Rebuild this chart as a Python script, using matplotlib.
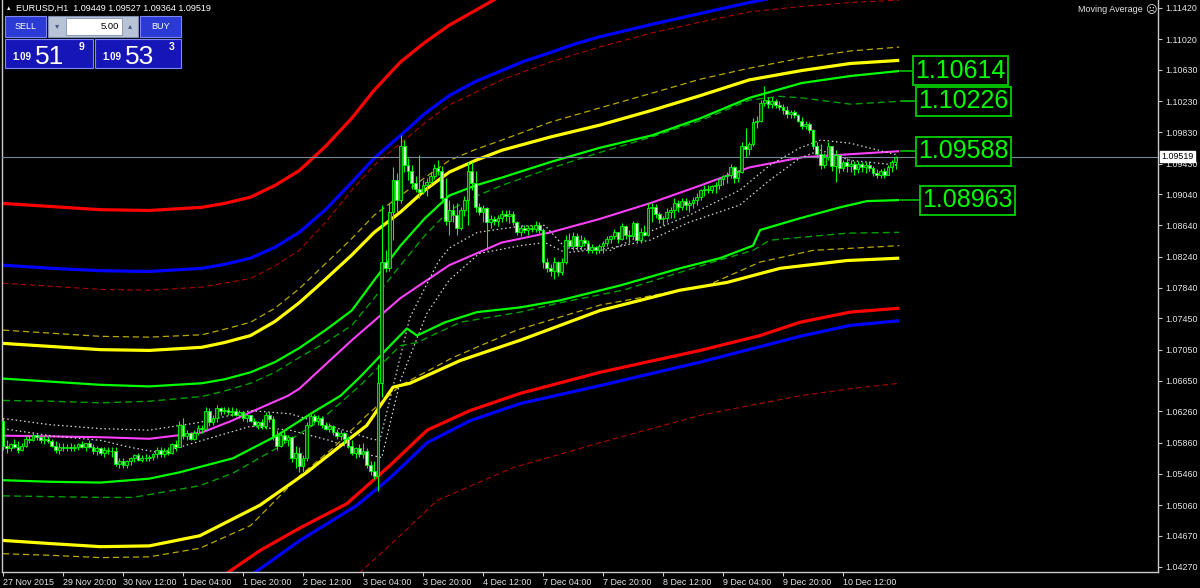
import numpy as np
import matplotlib.pyplot as plt
from matplotlib.patches import Rectangle

# ---------------- candles (EURUSD H1) ----------------
opens = [
    1.0614, 1.0582, 1.0579, 1.0584, 1.0581, 1.0577, 1.0582, 1.0591, 1.0589, 1.0596,
    1.0593, 1.0589, 1.0591, 1.0588, 1.0582, 1.0577, 1.0581, 1.0579, 1.0581, 1.0579,
    1.0580, 1.0584, 1.0581, 1.0585, 1.0580, 1.0575, 1.0579, 1.0573, 1.0577, 1.0575,
    1.0576, 1.0559, 1.0563, 1.0558, 1.0562, 1.0566, 1.0570, 1.0564, 1.0567, 1.0566,
    1.0568, 1.0571, 1.0577, 1.0572, 1.0576, 1.0573, 1.0584, 1.0581, 1.0608, 1.0595,
    1.0598, 1.0591, 1.0599, 1.0605, 1.0603, 1.0627, 1.0612, 1.0617, 1.0630, 1.0626,
    1.0628, 1.0625, 1.0627, 1.0622, 1.0625, 1.0618, 1.0621, 1.0614, 1.0609, 1.0612,
    1.0607, 1.0621, 1.0616, 1.0594, 1.0582, 1.0596, 1.0589, 1.0593, 1.0566, 1.0573,
    1.0556, 1.0566, 1.0609, 1.0620, 1.0614, 1.0617, 1.0609, 1.0604, 1.0607, 1.0600,
    1.0595, 1.0598, 1.0591, 1.0582, 1.0573, 1.0579, 1.0572, 1.0576, 1.0558, 1.0550,
    1.0544, 1.0662, 1.0817, 1.0809, 1.0881, 1.0922, 1.0896, 1.0966, 1.0941, 1.0934,
    1.0918, 1.0911, 1.0906, 1.0915, 1.0919, 1.0927, 1.0937, 1.0934, 1.0899, 1.0870,
    1.0883, 1.0877, 1.0860, 1.0883, 1.0896, 1.0934, 1.0918, 1.0887, 1.0881, 1.0886,
    1.0868, 1.0872, 1.0869, 1.0873, 1.0879, 1.0876, 1.0878, 1.0868, 1.0856, 1.0861,
    1.0858, 1.0860, 1.0859, 1.0865, 1.0858, 1.0817, 1.0809, 1.0806, 1.0817, 1.0804,
    1.0817, 1.0845, 1.0838, 1.0850, 1.0837, 1.0845, 1.0841, 1.0833, 1.0836, 1.0832,
    1.0837, 1.0841, 1.0847, 1.0850, 1.0855, 1.0847, 1.0863, 1.0852, 1.0850, 1.0867,
    1.0845, 1.0855, 1.0852, 1.0886, 1.0888, 1.0878, 1.0872, 1.0873, 1.0881, 1.0883,
    1.0893, 1.0887, 1.0895, 1.0890, 1.0892, 1.0897, 1.0900, 1.0909, 1.0911, 1.0909,
    1.0914, 1.0916, 1.0923, 1.0927, 1.0929, 1.0938, 1.0924, 1.0932, 1.0966, 1.0961,
    1.0968, 1.0996, 1.0998, 1.1020, 1.1024, 1.1019, 1.1023, 1.1018, 1.1015, 1.1011,
    1.1006, 1.1009, 1.1005, 1.0998, 1.0991, 1.0993, 1.0986, 1.0965, 1.0955, 1.0941,
    1.0952, 1.0965, 1.0940, 1.0954, 1.0937, 1.0945, 1.0940, 1.0943, 1.0936, 1.0942,
    1.0938, 1.0941, 1.0937, 1.0931, 1.0928, 1.0933, 1.0929, 1.0938, 1.09449]
highs = [
    1.0617, 1.0589, 1.0586, 1.0591, 1.0588, 1.0585, 1.0595, 1.0596, 1.0600, 1.0599,
    1.0596, 1.0594, 1.0595, 1.0591, 1.0588, 1.0585, 1.0586, 1.0584, 1.0585, 1.0584,
    1.0586, 1.0588, 1.0586, 1.0589, 1.0584, 1.0582, 1.0581, 1.0580, 1.0581, 1.0580,
    1.0580, 1.0566, 1.0567, 1.0564, 1.0568, 1.0572, 1.0573, 1.0570, 1.0571, 1.0570,
    1.0573, 1.0581, 1.0580, 1.0579, 1.0580, 1.0586, 1.0589, 1.0614, 1.0617, 1.0602,
    1.0600, 1.0602, 1.0609, 1.0609, 1.0631, 1.0630, 1.0621, 1.0634, 1.0632, 1.0632,
    1.0632, 1.0631, 1.0630, 1.0628, 1.0626, 1.0623, 1.0622, 1.0617, 1.0614, 1.0616,
    1.0625, 1.0625, 1.0620, 1.0602, 1.0600, 1.0602, 1.0596, 1.0595, 1.0582, 1.0580,
    1.0570, 1.0613, 1.0623, 1.0623, 1.0622, 1.0620, 1.0613, 1.0611, 1.0609, 1.0604,
    1.0602, 1.0600, 1.0595, 1.0589, 1.0581, 1.0584, 1.0586, 1.0579, 1.0563, 1.0563,
    1.0687, 1.0890, 1.0832, 1.0892, 1.0938, 1.0931, 1.0980, 1.0973, 1.0950, 1.0941,
    1.0927, 1.0954, 1.0922, 1.0925, 1.0932, 1.0942, 1.0947, 1.0940, 1.0925, 1.0896,
    1.0891, 1.0893, 1.0888, 1.0901, 1.0945, 1.0945, 1.0934, 1.0892, 1.0890, 1.0887,
    1.0877, 1.0876, 1.0877, 1.0884, 1.0883, 1.0884, 1.0882, 1.0870, 1.0865, 1.0865,
    1.0864, 1.0865, 1.0869, 1.0868, 1.0860, 1.0822, 1.0815, 1.0823, 1.0819, 1.0822,
    1.0851, 1.0854, 1.0855, 1.0854, 1.0851, 1.0849, 1.0845, 1.0840, 1.0838, 1.0840,
    1.0844, 1.0850, 1.0852, 1.0859, 1.0856, 1.0867, 1.0865, 1.0858, 1.0870, 1.0868,
    1.0860, 1.0864, 1.0892, 1.0893, 1.0891, 1.0881, 1.0876, 1.0886, 1.0888, 1.0899,
    1.0896, 1.0899, 1.0899, 1.0896, 1.0900, 1.0905, 1.0911, 1.0915, 1.0915, 1.0916,
    1.0920, 1.0925, 1.0929, 1.0932, 1.0942, 1.0940, 1.0934, 1.0970, 1.0988, 1.0970,
    1.1001, 1.1004, 1.1024, 1.1042, 1.1028, 1.1028, 1.1025, 1.1023, 1.1019, 1.1016,
    1.1012, 1.1011, 1.1007, 1.1002, 1.0997, 1.0996, 1.0987, 1.0970, 1.0968, 1.0957,
    1.0970, 1.0966, 1.0960, 1.0955, 1.0948, 1.0950, 1.0947, 1.0946, 1.0946, 1.0945,
    1.0945, 1.0946, 1.0940, 1.0936, 1.0936, 1.0937, 1.0941, 1.0947, 1.09527]
lows = [
    1.0577, 1.0573, 1.0575, 1.0579, 1.0573, 1.0575, 1.0580, 1.0586, 1.0588, 1.0589,
    1.0585, 1.0584, 1.0586, 1.0580, 1.0573, 1.0572, 1.0576, 1.0575, 1.0576, 1.0575,
    1.0577, 1.0579, 1.0576, 1.0579, 1.0571, 1.0570, 1.0570, 1.0568, 1.0571, 1.0568,
    1.0556, 1.0554, 1.0554, 1.0553, 1.0557, 1.0561, 1.0562, 1.0561, 1.0563, 1.0562,
    1.0564, 1.0567, 1.0568, 1.0568, 1.0570, 1.0572, 1.0576, 1.0580, 1.0591, 1.0589,
    1.0589, 1.0589, 1.0596, 1.0598, 1.0602, 1.0607, 1.0608, 1.0613, 1.0622, 1.0623,
    1.0622, 1.0620, 1.0620, 1.0618, 1.0614, 1.0613, 1.0612, 1.0607, 1.0603, 1.0604,
    1.0604, 1.0612, 1.0589, 1.0577, 1.0581, 1.0586, 1.0582, 1.0561, 1.0553, 1.0548,
    1.0549, 1.0563, 1.0607, 1.0611, 1.0609, 1.0605, 1.0602, 1.0600, 1.0596, 1.0591,
    1.0589, 1.0586, 1.0579, 1.0570, 1.0567, 1.0568, 1.0566, 1.0554, 1.0545, 1.0540,
    1.0524, 1.0644, 1.0804, 1.0806, 1.0845, 1.0881, 1.0893, 1.0932, 1.0922, 1.0911,
    1.0906, 1.0899, 1.0904, 1.0902, 1.0915, 1.0923, 1.0929, 1.0892, 1.0864, 1.0852,
    1.0868, 1.0852, 1.0858, 1.0876, 1.0865, 1.0909, 1.0881, 1.0877, 1.0868, 1.0832,
    1.0860, 1.0865, 1.0863, 1.0868, 1.0870, 1.0867, 1.0864, 1.0851, 1.0850, 1.0854,
    1.0852, 1.0855, 1.0855, 1.0854, 1.0809, 1.0804, 1.0799, 1.0795, 1.0799, 1.0801,
    1.0814, 1.0835, 1.0832, 1.0832, 1.0833, 1.0837, 1.0829, 1.0828, 1.0827, 1.0828,
    1.0829, 1.0837, 1.0841, 1.0846, 1.0842, 1.0845, 1.0847, 1.0842, 1.0847, 1.0841,
    1.0841, 1.0850, 1.0850, 1.0868, 1.0873, 1.0867, 1.0864, 1.0868, 1.0873, 1.0874,
    1.0881, 1.0883, 1.0883, 1.0881, 1.0886, 1.0890, 1.0896, 1.0902, 1.0905, 1.0905,
    1.0905, 1.0911, 1.0915, 1.0918, 1.0924, 1.0918, 1.0919, 1.0931, 1.0951, 1.0954,
    1.0965, 1.0989, 1.0996, 1.1016, 1.1014, 1.1014, 1.1014, 1.1012, 1.1007, 1.1001,
    1.1001, 1.1001, 1.0996, 1.0987, 1.0987, 1.0982, 1.0961, 1.0950, 1.0936, 1.0937,
    1.0947, 1.0933, 1.0920, 1.0931, 1.0933, 1.0932, 1.0932, 1.0929, 1.0931, 1.0932,
    1.0931, 1.0933, 1.0927, 1.0924, 1.0924, 1.0925, 1.0928, 1.0932, 1.09364]
closes = [
    1.0582, 1.0579, 1.0584, 1.0581, 1.0577, 1.0582, 1.0591, 1.0589, 1.0596, 1.0593,
    1.0589, 1.0591, 1.0588, 1.0582, 1.0577, 1.0581, 1.0579, 1.0581, 1.0579, 1.0580,
    1.0584, 1.0581, 1.0585, 1.0580, 1.0575, 1.0579, 1.0573, 1.0577, 1.0575, 1.0576,
    1.0559, 1.0563, 1.0558, 1.0562, 1.0566, 1.0570, 1.0564, 1.0567, 1.0566, 1.0568,
    1.0571, 1.0577, 1.0572, 1.0576, 1.0573, 1.0584, 1.0581, 1.0608, 1.0595, 1.0598,
    1.0591, 1.0599, 1.0605, 1.0603, 1.0627, 1.0612, 1.0617, 1.0630, 1.0626, 1.0628,
    1.0625, 1.0627, 1.0622, 1.0625, 1.0618, 1.0621, 1.0614, 1.0609, 1.0612, 1.0607,
    1.0621, 1.0616, 1.0594, 1.0582, 1.0596, 1.0589, 1.0593, 1.0566, 1.0573, 1.0556,
    1.0566, 1.0609, 1.0620, 1.0614, 1.0617, 1.0609, 1.0604, 1.0607, 1.0600, 1.0595,
    1.0598, 1.0591, 1.0582, 1.0573, 1.0579, 1.0572, 1.0576, 1.0558, 1.0550, 1.0544,
    1.0662, 1.0817, 1.0809, 1.0881, 1.0922, 1.0896, 1.0966, 1.0941, 1.0934, 1.0918,
    1.0911, 1.0906, 1.0915, 1.0919, 1.0927, 1.0937, 1.0934, 1.0899, 1.0870, 1.0883,
    1.0877, 1.0860, 1.0883, 1.0896, 1.0934, 1.0918, 1.0887, 1.0881, 1.0886, 1.0868,
    1.0872, 1.0869, 1.0873, 1.0879, 1.0876, 1.0878, 1.0868, 1.0856, 1.0861, 1.0858,
    1.0860, 1.0859, 1.0865, 1.0858, 1.0817, 1.0809, 1.0806, 1.0817, 1.0804, 1.0817,
    1.0845, 1.0838, 1.0850, 1.0837, 1.0845, 1.0841, 1.0833, 1.0836, 1.0832, 1.0837,
    1.0841, 1.0847, 1.0850, 1.0855, 1.0847, 1.0863, 1.0852, 1.0850, 1.0867, 1.0845,
    1.0855, 1.0852, 1.0886, 1.0888, 1.0878, 1.0872, 1.0873, 1.0881, 1.0883, 1.0893,
    1.0887, 1.0895, 1.0890, 1.0892, 1.0897, 1.0900, 1.0909, 1.0911, 1.0909, 1.0914,
    1.0916, 1.0923, 1.0927, 1.0929, 1.0938, 1.0924, 1.0932, 1.0966, 1.0961, 1.0968,
    1.0996, 1.0998, 1.1020, 1.1024, 1.1019, 1.1023, 1.1018, 1.1015, 1.1011, 1.1006,
    1.1009, 1.1005, 1.0998, 1.0991, 1.0993, 1.0986, 1.0965, 1.0955, 1.0941, 1.0952,
    1.0965, 1.0940, 1.0954, 1.0937, 1.0945, 1.0940, 1.0943, 1.0936, 1.0942, 1.0938,
    1.0941, 1.0937, 1.0931, 1.0928, 1.0933, 1.0929, 1.0938, 1.0945, 1.09519]

time_labels = ["27 Nov 2015", "29 Nov 20:00", "30 Nov 12:00", "1 Dec 04:00", "1 Dec 20:00",
               "2 Dec 12:00", "3 Dec 04:00", "3 Dec 20:00", "4 Dec 12:00", "7 Dec 04:00",
               "7 Dec 20:00", "8 Dec 12:00", "9 Dec 04:00", "9 Dec 20:00", "10 Dec 12:00"]
price_ticks = [1.11420, 1.11020, 1.10630, 1.10230, 1.09830, 1.09430, 1.09040, 1.08640, 1.08240,
               1.07840, 1.07450, 1.07050, 1.06650, 1.06260, 1.05860, 1.05460, 1.05060, 1.04670, 1.04270]

# ---------------- indicator lines (bar index, price) ----------------
red_up_x = [0, 13, 26, 39, 53, 59, 66, 72.5, 79, 86, 93, 99, 106, 112.5, 119, 126, 133, 146]
red_up_y = [1.0892, 1.0888, 1.0884, 1.0883, 1.0887, 1.0892, 1.0900, 1.0915, 1.0934, 1.0965, 1.1001,
            1.1037, 1.1073, 1.1098, 1.1120, 1.1139, 1.1158, 1.1190]
blue_up_x = [0, 13, 26, 39, 53, 59, 66, 72.5, 79, 86, 93, 99, 106, 112.5, 119, 126, 133, 139, 146,
             152.5, 159, 173, 186, 199, 213, 226]
blue_up_y = [1.0813, 1.0809, 1.0806, 1.0805, 1.0809, 1.0814, 1.0822, 1.0836, 1.0855, 1.0884, 1.0919,
             1.0950, 1.0979, 1.1007, 1.1030, 1.1048, 1.1062, 1.1074, 1.1085, 1.1096, 1.1105, 1.1121,
             1.1135, 1.1149, 1.1162, 1.1171]
dred_up_x = [0, 13, 26, 39, 53, 59, 66, 72.5, 79, 86, 93, 99, 106, 112.5, 119, 126, 133, 146, 159,
             173, 186, 199, 213, 226, 239]
dred_up_y = [1.0790, 1.0786, 1.0782, 1.0781, 1.0785, 1.0790, 1.0796, 1.0812, 1.0832, 1.0868, 1.0909,
             1.0941, 1.0969, 1.0995, 1.1018, 1.1034, 1.1050, 1.1073, 1.1092, 1.1110, 1.1124, 1.1137,
             1.1144, 1.1149, 1.1152]
ydash_up_x = [0, 13, 26, 39, 53, 59, 66, 72.5, 79, 86, 93, 99, 106, 112.5, 119, 126, 133, 146, 159,
              173, 186, 199, 213, 226, 239]
ydash_up_y = [1.0730, 1.0726, 1.0722, 1.0721, 1.0724, 1.0731, 1.0740, 1.0758, 1.0783, 1.0815, 1.0847,
              1.0877, 1.0902, 1.0925, 1.0947, 1.0961, 1.0973, 1.0996, 1.1014, 1.1033, 1.1051, 1.1065,
              1.1078, 1.1087, 1.1092]
yel_up_x = [0, 13, 26, 39, 53, 59, 66, 72.5, 79, 86, 93, 99, 106, 112.5, 119, 126, 133, 146, 159,
            173, 186, 199, 213, 226, 239]
yel_up_y = [1.0713, 1.0709, 1.0705, 1.0704, 1.0708, 1.0714, 1.0723, 1.0741, 1.0765, 1.0795, 1.0826,
            1.0855, 1.0881, 1.0909, 1.0932, 1.0947, 1.0960, 1.0977, 1.0992, 1.1011, 1.1030, 1.1050,
            1.1062, 1.1071, 1.1075]
grn_up_x = [0, 13, 26, 39, 53, 59, 66, 72.5, 79, 86, 93, 99, 106, 112.5, 119, 126, 133, 146, 159,
            173, 186, 199, 213, 226, 239]
grn_up_y = [1.0668, 1.0664, 1.0660, 1.0658, 1.0662, 1.0667, 1.0676, 1.0689, 1.0707, 1.0730, 1.0755,
            1.0794, 1.0838, 1.0873, 1.0902, 1.0915, 1.0925, 1.0945, 1.0963, 1.0979, 1.1001, 1.1027,
            1.1046, 1.1055, 1.10614]
gdash_up_x = [0, 13, 26, 39, 53, 59, 66, 72.5, 79, 86, 93, 99, 106, 112.5, 119, 126, 133, 146, 159,
              173, 186, 199, 207, 213, 226, 239]
gdash_up_y = [1.0640, 1.0639, 1.0637, 1.0639, 1.0645, 1.0652, 1.0662, 1.0676, 1.0695, 1.0714, 1.0736,
              1.0771, 1.0813, 1.0851, 1.0883, 1.0901, 1.0915, 1.0937, 1.0957, 1.0977, 1.0998, 1.1024,
              1.1029, 1.1027, 1.1019, 1.10226]
ma_x = [0, 13, 26, 39, 53, 61, 66, 76, 79, 93, 106, 119, 133, 146, 159, 173, 186, 199, 213, 226, 239]
ma_y = [1.0595, 1.0594, 1.0593, 1.0591, 1.0599, 1.0614, 1.0625, 1.0646, 1.0655, 1.0717, 1.0771,
        1.0813, 1.0842, 1.0855, 1.0872, 1.0893, 1.0915, 1.0938, 1.0951, 1.0955, 1.09588]
env_up_x = [0, 12.5, 26, 39, 52.5, 66, 76.5, 87, 98, 100.5, 108.5, 116, 119, 126.5, 138, 144.5, 150,
            162, 170, 183, 196.5, 204.5, 212.5, 218, 226, 238.5]
env_up_y = [1.0617, 1.0609, 1.0604, 1.0602, 1.0612, 1.0627, 1.0623, 1.0608, 1.0591, 1.0589, 1.0746,
            1.0817, 1.0835, 1.0855, 1.0863, 1.0864, 1.0835, 1.0832, 1.0851, 1.0877, 1.0909, 1.0941,
            1.0963, 1.0973, 1.0969, 1.0954]
env_dn_x = [0, 12.5, 26, 34, 42, 52.5, 66, 76.5, 87, 98, 101, 106, 113, 119, 127, 138, 144.5, 150,
            162, 172.5, 183, 196.5, 204.5, 212.5, 218, 226, 238.5]
env_dn_y = [1.0604, 1.0595, 1.0589, 1.0580, 1.0573, 1.0588, 1.0607, 1.0602, 1.0589, 1.0570, 1.0567,
            1.0666, 1.0751, 1.0794, 1.0828, 1.0838, 1.0842, 1.0829, 1.0835, 1.0845, 1.0868, 1.0890,
            1.0922, 1.0950, 1.0960, 1.0947, 1.0941]
grn_dn_x = [0, 12.5, 26, 39, 47, 61.3, 73, 82.7, 90, 95, 103.2, 107.7, 110.4, 117.9, 126.4, 137.9,
            148.5, 164.5, 180.5, 191.2, 200, 201.9, 212.5, 223.2, 230.4, 239]
grn_dn_y = [1.0538, 1.0536, 1.0535, 1.0540, 1.0548, 1.0566, 1.0595, 1.0625, 1.0646, 1.0669, 1.0710,
            1.0732, 1.0723, 1.0740, 1.0753, 1.0759, 1.0768, 1.0787, 1.0809, 1.0822, 1.0838, 1.0858,
            1.0873, 1.0887, 1.0895, 1.08963]
gdash_dn_x = [0, 12.5, 26, 34.7, 52.5, 61.3, 73, 84.5, 95.2, 105.9, 110.4, 121.9, 137.9, 148.5, 165.3,
              189.3, 200, 204.5, 225.1, 239]
gdash_dn_y = [1.0518, 1.0517, 1.0516, 1.0516, 1.0531, 1.0547, 1.0579, 1.0614, 1.0659, 1.0710, 1.0714,
              1.0740, 1.0753, 1.0765, 1.0781, 1.0817, 1.0832, 1.0845, 1.0854, 1.0855]
ydash_dn_x = [0, 12.5, 26, 39, 52.5, 66, 72, 79.2, 88, 97, 105.9, 120, 137, 159.2, 187.7, 201.9, 216, 239]
ydash_dn_y = [1.0444, 1.0442, 1.0439, 1.0440, 1.0451, 1.0480, 1.0509, 1.0544, 1.0579, 1.0621, 1.0659,
              1.0695, 1.0730, 1.0762, 1.0787, 1.0817, 1.0832, 1.0838]
yel_dn_x = [0, 12.5, 26, 39, 52.5, 68.5, 81, 90, 97, 104, 108.5, 121.9, 137.9, 159.2, 180.5, 193.1,
            207.2, 225.1, 239]
yel_dn_y = [1.0461, 1.0457, 1.0453, 1.0454, 1.0467, 1.0506, 1.0548, 1.0582, 1.0608, 1.0657, 1.0662,
            1.0691, 1.0717, 1.0755, 1.0781, 1.0791, 1.0809, 1.0819, 1.0822]
red_dn_x = [39, 52.5, 60, 68.5, 79.2, 91.7, 103.2, 113.1, 124.5, 137.9, 159.2, 185.9, 201.9, 212.5, 225.9, 239]
red_dn_y = [1.0333, 1.0384, 1.0420, 1.0448, 1.0477, 1.0508, 1.0557, 1.0602, 1.0627, 1.0649, 1.0676,
            1.0704, 1.0723, 1.0740, 1.0753, 1.0758]
blue_dn_x = [47, 57.9, 67.2, 79.2, 94.4, 103.2, 113.1, 124.5, 137.9, 159.2, 185.9, 212.5, 225.9, 239]
blue_dn_y = [1.0320, 1.0384, 1.0420, 1.0461, 1.0506, 1.0541, 1.0586, 1.0614, 1.0636, 1.0659, 1.0689,
             1.0722, 1.0736, 1.0742]
dred_dn_x = [84.5, 95.2, 105.9, 115.7, 136, 159.2, 185.9, 212.5, 225.9, 239]
dred_dn_y = [1.0333, 1.0420, 1.0467, 1.0512, 1.0554, 1.0586, 1.0621, 1.0646, 1.0655, 1.0662]

level_labels = [1.10614, 1.10226, 1.09588, 1.08963]
bid, ask = 1.09519, 1.09533

# ---------------- figure ----------------
plt.rcParams['font.family'] = ['Liberation Sans', 'DejaVu Sans']
fig = plt.figure(figsize=(12, 5.88), dpi=100, facecolor='black')
ax = fig.add_axes([2 / 1200, 16 / 588, 1156 / 1200, 572 / 588])
ax.set_facecolor('black')
ax.set_xlim(-0.27, 308)
ax.set_ylim(1.04206, 1.11522)

dash = (0, (5, 3))
dot = (0, (1.2, 2.2))
lines = [
    (red_up_x, red_up_y, '#ff0000', 2.3, '-'),
    (blue_up_x, blue_up_y, '#0000ff', 2.3, '-'),
    (dred_up_x, dred_up_y, '#b00000', 0.8, dash),
    (ydash_up_x, ydash_up_y, '#b8a800', 0.9, dash),
    (yel_up_x, yel_up_y, '#ffff00', 2.3, '-'),
    (gdash_up_x, gdash_up_y, '#00a000', 1.0, dash),
    (grn_up_x, grn_up_y, '#00ff00', 1.6, '-'),
    (ma_x, ma_y, '#ff40ff', 1.5, '-'),
    (env_up_x, env_up_y, '#d8d8d8', 0.9, dot),
    (env_dn_x, env_dn_y, '#d8d8d8', 0.9, dot),
    (gdash_dn_x, gdash_dn_y, '#00a000', 1.0, dash),
    (grn_dn_x, grn_dn_y, '#00ff00', 1.6, '-'),
    (ydash_dn_x, ydash_dn_y, '#b8a800', 0.9, dash),
    (yel_dn_x, yel_dn_y, '#ffff00', 2.3, '-'),
    (red_dn_x, red_dn_y, '#ff0000', 2.3, '-'),
    (blue_dn_x, blue_dn_y, '#0000ff', 2.3, '-'),
    (dred_dn_x, dred_dn_y, '#b00000', 0.8, dash),
]
for xs, ys, col, lw, ls in lines:
    ax.plot(xs, ys, color=col, lw=lw, linestyle=ls, zorder=2, solid_capstyle='butt',
            solid_joinstyle='round')

# candles
o = np.array(opens)
h = np.array(highs)
l = np.array(lows)
c = np.array(closes)
idx = np.arange(len(c))
up = c >= o
ax.vlines(idx, l, h, color='#00ff00', lw=0.8, zorder=4)
ax.bar(idx[up], (c - o)[up], bottom=o[up], width=0.74, color='#0c4a0c',
       edgecolor='#00ff00', lw=0.6, zorder=5)
ax.bar(idx[~up], (o - c)[~up], bottom=c[~up], width=0.74, color='#d0ffd0',
       edgecolor='#00ff00', lw=0.6, zorder=5)

# current bid line
ax.axhline(bid, color='#778899', lw=0.8, zorder=3)

# level labels at right end of the lines
label_x = [242.6, 243.4, 243.4, 244.5]
for lx, val in zip(label_x, level_labels):
    ax.plot([239.5, lx], [val, val], color='#00c000', lw=1.2, zorder=3)
    ax.text(lx + 0.6, val, f'{val:.5f}', color='#00ff00', fontsize=18, ha='left', va='center',
            zorder=6, bbox=dict(boxstyle='square,pad=0.1', fc='black', ec='#00c000', lw=1.4))

# axes styling
ax.spines['top'].set_visible(False)
for s in ['left', 'right', 'bottom']:
    ax.spines[s].set_color('#c8c8c8')
    ax.spines[s].set_linewidth(1.0)
ax.yaxis.tick_right()
ax.set_yticks(price_ticks)
ax.set_yticklabels([f'{v:.5f}' for v in price_ticks])
ax.set_xticks(list(range(0, 16 * len(time_labels), 16)))
ax.set_xticklabels(time_labels, ha='left')
ax.tick_params(axis='y', colors='#c8c8c8', labelcolor='#e6e6e6', labelsize=6.4, length=3,
               width=0.8, pad=2, direction='out')
ax.tick_params(axis='x', colors='#c8c8c8', labelcolor='#e6e6e6', labelsize=6.4, length=3,
               width=0.8, pad=1, direction='out')

# bid price tag on the axis
ax.text(1.003, bid, f'{bid:.5f}', transform=ax.get_yaxis_transform(), color='black', fontsize=6.4,
        ha='left', va='center', zorder=10, clip_on=False,
        bbox=dict(boxstyle='square,pad=0.15', fc='white', ec='white'))

# ---------------- overlay: header, trade panel ----------------
ov = fig.add_axes([0, 0, 1, 1], zorder=20)
ov.set_xlim(0, 1200)
ov.set_ylim(588, 0)
ov.axis('off')
ov.patch.set_alpha(0)

ov.text(6, 8, '\u25b2', color='white', fontsize=4, ha='left', va='center')
ov.text(16, 8, f'EURUSD,H1  {opens[-1]:.5f} {highs[-1]:.5f} {lows[-1]:.5f} {closes[-1]:.5f}',
        color='white', fontsize=6.5, ha='left', va='center')
ov.text(1143, 10, 'Moving Average', color='#e6e6e6', fontsize=6.5, ha='right', va='center')
ov.text(1151, 10, '\u2639', color='#e6e6e6', fontsize=8, ha='center', va='center', family='DejaVu Sans')

btn = '#2a3ad2'
box = '#1616b8'
edge = '#7b86ff'
ov.add_patch(Rectangle((5, 16), 41, 21, fc=btn, ec=edge, lw=0.8))
ov.add_patch(Rectangle((140, 16), 41, 21, fc=btn, ec=edge, lw=0.8))
ov.text(25.5, 26.5, 'SELL', color='white', fontsize=6.5, ha='center', va='center')
ov.text(160.5, 26.5, 'BUY', color='white', fontsize=6.5, ha='center', va='center')
ov.add_patch(Rectangle((48, 16), 90, 21, fc='#b9c3d8', ec='#8090b0', lw=0.8))
ov.add_patch(Rectangle((66, 18), 56, 17, fc='white', ec='#8090b0', lw=0.6))
ov.text(119, 26.5, '5.00', color='black', fontsize=6.8, ha='right', va='center')
ov.text(57, 26, '\u25be', color='#4a5a80', fontsize=6, ha='center', va='center', family='DejaVu Sans')
ov.text(130, 26, '\u25b4', color='#4a5a80', fontsize=6, ha='center', va='center', family='DejaVu Sans')

for x0, w, price in [(5, 88, bid), (95, 86, ask)]:
    s = f'{price:.5f}'
    ov.add_patch(Rectangle((x0, 39), w, 29, fc=box, ec=edge, lw=0.8))
    ov.text(x0 + 7, 60, s[:4], color='white', fontsize=7, ha='left', va='baseline', weight='bold')
    ov.text(x0 + 30, 64, s[4:6], color='white', fontsize=19, ha='left', va='baseline')
    ov.text(x0 + 74, 47, s[6], color='white', fontsize=7.5, ha='left', va='center', weight='bold')

fig.savefig('out.png', dpi=100, facecolor='black')
